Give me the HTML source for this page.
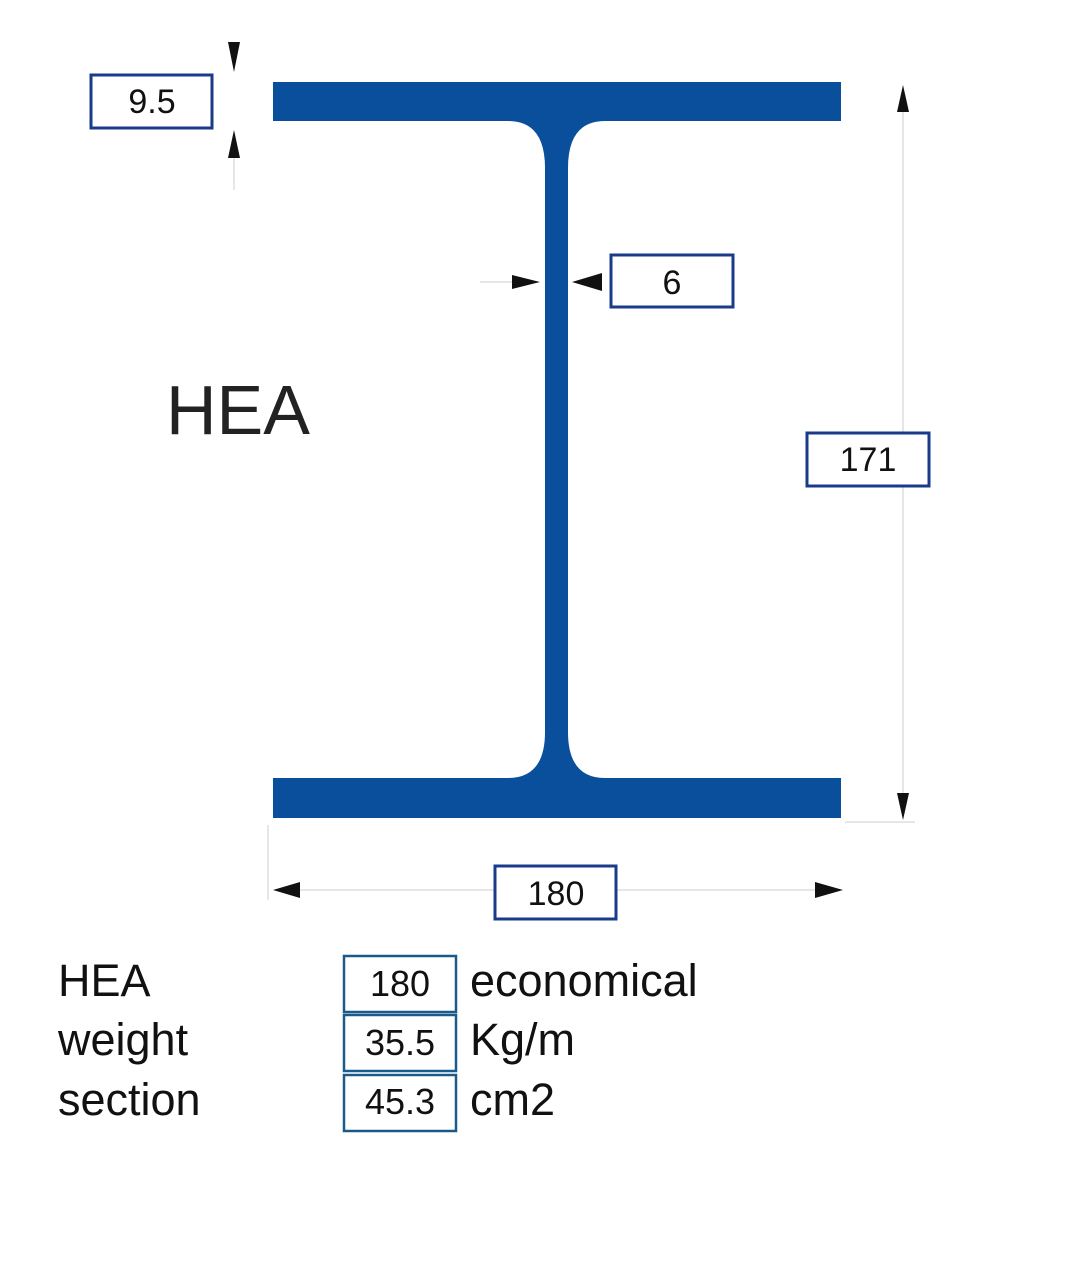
<!DOCTYPE html>
<html><head><meta charset="utf-8"><style>
body{margin:0;background:#fff;}
svg{display:block}
</style></head><body>
<svg width="1066" height="1280" viewBox="0 0 1066 1280" xmlns="http://www.w3.org/2000/svg" font-family="Liberation Sans, sans-serif">
<rect width="1066" height="1280" fill="#fff"/>
<path d="M273 82 H841 V121 H605 Q568 121 568 168 V732 Q568 778 605 778 H841 V818 H273 V778 H508 Q545 778 545 732 V168 Q545 121 508 121 H273 Z" fill="#0a4f9c"/>
<g stroke="#ddd" stroke-width="1.5" fill="none">
<line x1="903" y1="112" x2="903" y2="793"/>
<line x1="845" y1="822" x2="915" y2="822"/>
<line x1="300" y1="890" x2="494" y2="890"/>
<line x1="616" y1="890" x2="815" y2="890"/>
<line x1="268" y1="825" x2="268" y2="900"/>
<line x1="234" y1="158" x2="234" y2="190"/>
<line x1="480" y1="282" x2="512" y2="282"/>
</g>
<g fill="#111">
<polygon points="228,42 240,42 234,72"/>
<polygon points="228,158 240,158 234,130"/>
<polygon points="512,275 512,289 540,282"/>
<polygon points="602,273 602,291 572,282"/>
<polygon points="897,112 909,112 903,85"/>
<polygon points="897,793 909,793 903,820"/>
<polygon points="300,882 300,898 273,890"/>
<polygon points="815,882 815,898 843,890"/>
</g>
<g fill="#fff" stroke="#1a3a8a" stroke-width="3">
<rect x="91" y="75" width="121" height="53"/>
<rect x="611" y="255" width="122" height="52"/>
<rect x="807" y="433" width="122" height="53"/>
<rect x="495" y="866" width="121" height="53"/>
</g>
<g font-size="34" fill="#111" text-anchor="middle">
<text x="152" y="113">9.5</text>
<text x="672" y="294">6</text>
<text x="868" y="471">171</text>
<text x="556" y="905">180</text>
</g>
<text x="166" y="434" font-size="70" fill="#222">HEA</text>
<g fill="#fff" stroke="#1a5a8a" stroke-width="2.5">
<rect x="344" y="956" width="112" height="56"/>
<rect x="344" y="1015" width="112" height="56"/>
<rect x="344" y="1075" width="112" height="56"/>
</g>
<g font-size="36" fill="#111" text-anchor="middle">
<text x="400" y="996">180</text>
<text x="400" y="1055">35.5</text>
<text x="400" y="1114">45.3</text>
</g>
<g font-size="45" fill="#111">
<text x="58" y="996">HEA</text>
<text x="58" y="1055">weight</text>
<text x="58" y="1115">section</text>
<text x="470" y="996">economical</text>
<text x="470" y="1055">Kg/m</text>
<text x="470" y="1115">cm2</text>
</g>
</svg>
</body></html>
